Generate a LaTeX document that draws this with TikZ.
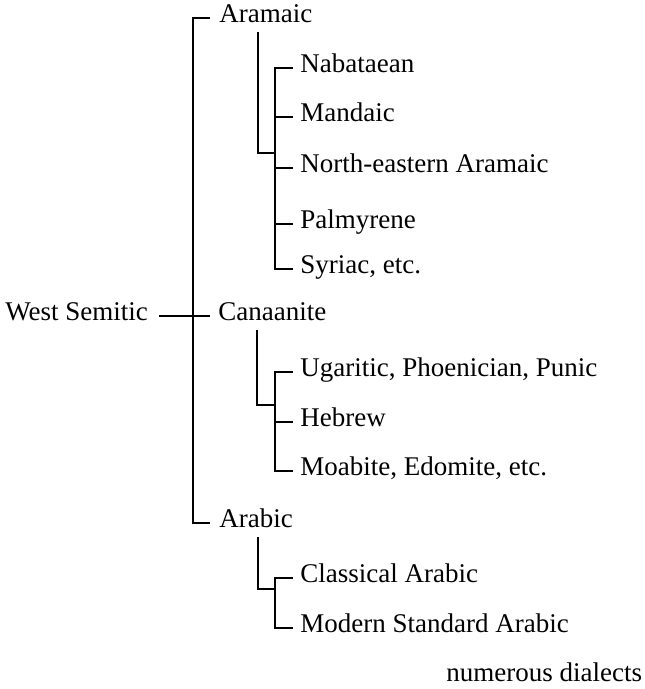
\documentclass[tikz,border=0pt]{standalone}
\usepackage{fontspec}
\setmainfont{Liberation Serif}
\usetikzlibrary{
  positioning,
  calc
}
\tikzset{
  lang/.style={anchor=mid west, inner sep=0pt, font=\fontsize{13.5}{16}\selectfont},
  branch/.style={line width=0.65pt, black, line cap=rect}
}

\begin{document}
\begin{tikzpicture}[x=0.5pt, y=-0.5pt]
  \useasboundingbox (0,0) rectangle (644,689);
  % root and first level
  \node[lang] (ws) at (5,316) {West Semitic};
  \node[lang] (aram) at (219,18) {Aramaic};
  \node[lang] (can) at (218,316) {Canaanite};
  \node[lang] (arab) at (219,523) {Arabic};
  % Aramaic group
  \node[lang] (nab) at (300,68) {Nabataean};
  \node[lang] (mand) at (300,117) {Mandaic};
  \node[lang] (nea) at (300,168) {North-eastern Aramaic};
  \node[lang] (palm) at (300,224) {Palmyrene};
  \node[lang] (syr) at (300,269) {Syriac, etc.};
  % Canaanite group
  \node[lang] (uga) at (300,372) {Ugaritic, Phoenician, Punic};
  \node[lang] (heb) at (300,422) {Hebrew};
  \node[lang] (moab) at (300,471) {Moabite, Edomite, etc.};
  % Arabic group
  \node[lang] (clas) at (300,578) {Classical Arabic};
  \node[lang] (msa) at (300,628) {Modern Standard Arabic};
  \node[lang] (dial) at (446,677) {numerous dialects};

  \coordinate (aramj) at (275,153);
  \coordinate (canj) at (275,405);
  \coordinate (arabj) at (275,589);

  % main bracket
  \draw[branch] ($(ws.mid east)+(11,0)$) -- ($(can.mid west)+(-9,0)$);
  \draw[branch] ($(aram.mid west)+(-10,0)$) -| ($(arab.mid west)+(-26,0)$) -- ($(arab.mid west)+(-10,0)$);

  % sub brackets
  \foreach \p/\j/\a/\b in {aram/aramj/nab/syr, can/canj/uga/moab, arab/arabj/clas/msa}{
    \draw[branch] ($(\p.mid west)+(39,15)$) |- (\j);
    \draw[branch] ($(\a.mid west)+(-8,0)$) -| ($(\b.mid west)+(-25,0)$) -- ($(\b.mid west)+(-8,0)$);
  }
  \foreach \c in {mand,nea,palm,heb}{
    \draw[branch] ($(\c.mid west)+(-25,0)$) -- ($(\c.mid west)+(-8,0)$);
  }
\end{tikzpicture}
\end{document}
